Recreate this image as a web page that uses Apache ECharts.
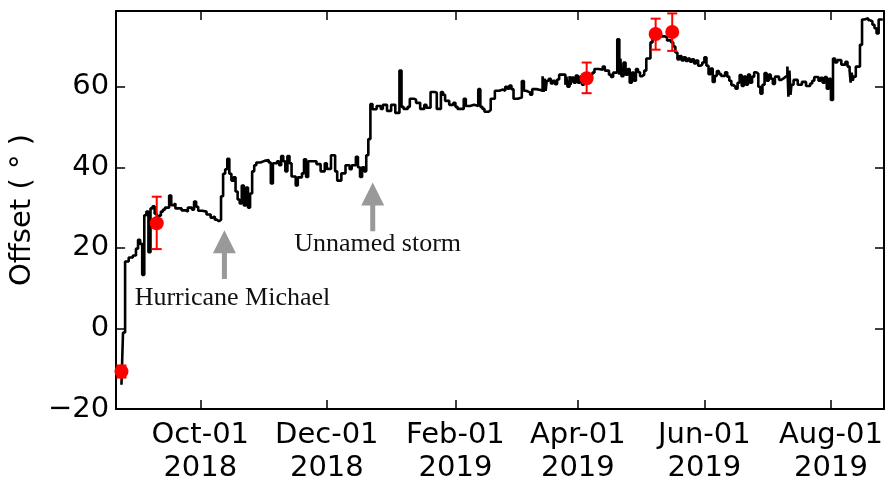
<!DOCTYPE html>
<html>
<head>
<meta charset="utf-8">
<script src="https://cdn.jsdelivr.net/npm/echarts@6/dist/echarts.min.js"></script>
<style>
  html, body { margin: 0; padding: 0; background: #fff; overflow: hidden; }
  #chart { width: 890px; height: 485px; }
</style>
</head>
<body>
<div id="chart"></div>
<script>
// Offset time series (degrees), step-drawn
const offsetSeries = [
  ['2018-08-24', -14], ['2018-08-24 18:00', -1], ['2018-08-25 18:00', 16.6],
  ['2018-08-27 12:00', 17.6], ['2018-08-29 12:00', 18.1], ['2018-08-31', 19.8],
  ['2018-09-01', 22], ['2018-09-02', 21], ['2018-09-03', 13.3], ['2018-09-04', 28.1],
  ['2018-09-05', 29], ['2018-09-06', 18.9], ['2018-09-07', 29.8], ['2018-09-08', 30.3],
  ['2018-09-09', 28.5], ['2018-09-10', 27], ['2018-09-11', 28], ['2018-09-12', 29],
  ['2018-09-13', 29.5], ['2018-09-14', 30], ['2018-09-16', 33], ['2018-09-17', 30.6],
  ['2018-09-18', 31], ['2018-09-19', 29.8], ['2018-09-21', 29.8], ['2018-09-22', 29.3],
  ['2018-09-24', 29], ['2018-09-25', 30], ['2018-09-27', 29.5], ['2018-09-28', 31.5],
  ['2018-09-29', 30.2], ['2018-09-30', 29.2], ['2018-10-02', 29], ['2018-10-04', 28.3],
  ['2018-10-06', 27.5], ['2018-10-07', 27.8], ['2018-10-08', 27], ['2018-10-09', 26.6],
  ['2018-10-10', 27], ['2018-10-11', 32.8], ['2018-10-12', 38.4], ['2018-10-13', 39.5],
  ['2018-10-14', 42.1], ['2018-10-15', 38.4], ['2018-10-16', 36.7], ['2018-10-17', 37.5],
  ['2018-10-18', 34], ['2018-10-19', 32], ['2018-10-20', 31], ['2018-10-21', 35.5],
  ['2018-10-22', 30.5], ['2018-10-23', 35], ['2018-10-24', 30], ['2018-10-25', 33.5],
  ['2018-10-26', 39], ['2018-10-27', 40.5], ['2018-10-28', 41.2], ['2018-10-30', 41.6],
  ['2018-11-01', 41.8], ['2018-11-03', 41.2], ['2018-11-04', 36], ['2018-11-05', 41],
  ['2018-11-07', 41.5], ['2018-11-08', 40.5], ['2018-11-09', 42.8], ['2018-11-10', 41.5],
  ['2018-11-11', 39], ['2018-11-12', 42.8], ['2018-11-13', 41], ['2018-11-14', 37.7],
  ['2018-11-16', 35.5], ['2018-11-17', 37.5], ['2018-11-19', 38.5], ['2018-11-20', 42],
  ['2018-11-21', 37.6], ['2018-11-22', 41.5], ['2018-11-24', 41.5], ['2018-11-26', 40.8],
  ['2018-11-28', 39], ['2018-11-30', 41], ['2018-12-01', 39.6], ['2018-12-03', 43],
  ['2018-12-05', 39], ['2018-12-06', 36.7], ['2018-12-08', 38.5], ['2018-12-10', 40.5],
  ['2018-12-12', 39.5], ['2018-12-13', 40.5], ['2018-12-15', 42.6], ['2018-12-16', 40],
  ['2018-12-17', 37.6], ['2018-12-18', 40], ['2018-12-19', 39], ['2018-12-20', 43],
  ['2018-12-21', 47], ['2018-12-22', 55.7], ['2018-12-23', 54.4], ['2018-12-25', 55.2],
  ['2018-12-27', 54.5], ['2018-12-28', 55.5], ['2018-12-30', 54], ['2019-01-01', 55.5],
  ['2019-01-03', 53.5], ['2019-01-05', 64], ['2019-01-06', 55], ['2019-01-07', 54.5],
  ['2019-01-09', 55], ['2019-01-10', 57], ['2019-01-12', 56.8], ['2019-01-13', 56],
  ['2019-01-15', 54.5], ['2019-01-17', 55.5], ['2019-01-18', 54.8], ['2019-01-20', 58.7],
  ['2019-01-22', 58.5], ['2019-01-23', 54.5], ['2019-01-25', 58.7], ['2019-01-26', 58],
  ['2019-01-27', 56.5], ['2019-01-29', 55.5], ['2019-01-31', 56], ['2019-02-01', 55],
  ['2019-02-02', 54.5], ['2019-02-05', 57], ['2019-02-06', 55.2], ['2019-02-08', 55.5],
  ['2019-02-10', 55.2], ['2019-02-12', 59.4], ['2019-02-13', 55], ['2019-02-14', 54.5],
  ['2019-02-15', 53.8], ['2019-02-17', 54.2], ['2019-02-18', 57], ['2019-02-20', 59],
  ['2019-02-22', 59.3], ['2019-02-24', 59], ['2019-02-25', 60], ['2019-02-26', 59.5],
  ['2019-02-27', 60.3], ['2019-02-28', 59.4], ['2019-03-01', 57], ['2019-03-03', 57.3],
  ['2019-03-05', 61.4], ['2019-03-06', 59], ['2019-03-07', 58.6], ['2019-03-09', 58],
  ['2019-03-10', 59.4], ['2019-03-12', 59.2], ['2019-03-14', 59], ['2019-03-15', 62.6],
  ['2019-03-15 12:00', 58.7], ['2019-03-16', 62], ['2019-03-16 12:00', 59], ['2019-03-17', 61.5],
  ['2019-03-18', 62], ['2019-03-19', 60.8], ['2019-03-20', 61.5], ['2019-03-21', 60.6],
  ['2019-03-22', 61.8], ['2019-03-23', 63], ['2019-03-25', 63], ['2019-03-26', 60.5],
  ['2019-03-26 12:00', 62.5], ['2019-03-27', 60], ['2019-03-28', 62.6], ['2019-03-28 12:00', 60.5],
  ['2019-03-29', 62.3], ['2019-03-30', 61], ['2019-03-31', 62.8], ['2019-04-01', 61],
  ['2019-04-02', 62.5], ['2019-04-03', 60.5], ['2019-04-04', 62.5], ['2019-04-05', 61.5],
  ['2019-04-06', 63], ['2019-04-08', 63.5], ['2019-04-09', 64.4], ['2019-04-11', 64.2],
  ['2019-04-13', 65], ['2019-04-14', 64], ['2019-04-16', 63], ['2019-04-17', 62.4],
  ['2019-04-18', 63.5], ['2019-04-20', 71.8], ['2019-04-21', 63], ['2019-04-21 12:00', 67],
  ['2019-04-22', 62.6], ['2019-04-23', 66], ['2019-04-24', 63], ['2019-04-25', 64.4],
  ['2019-04-26', 61], ['2019-04-27', 63.5], ['2019-04-28', 61.5], ['2019-04-29', 64.4],
  ['2019-04-30', 63.6], ['2019-05-01', 62.6], ['2019-05-02', 63], ['2019-05-03', 64],
  ['2019-05-04', 67], ['2019-05-06', 71], ['2019-05-07', 73.4], ['2019-05-08', 73.2],
  ['2019-05-10', 73.4], ['2019-05-11', 72.5], ['2019-05-13', 72.2], ['2019-05-14', 71.5],
  ['2019-05-16', 71], ['2019-05-17', 70], ['2019-05-18', 68.5], ['2019-05-19', 66.8],
  ['2019-05-20', 67.6], ['2019-05-21', 66.5], ['2019-05-22', 67.3], ['2019-05-23', 66.4],
  ['2019-05-24', 67], ['2019-05-25', 66.2], ['2019-05-26', 66.8], ['2019-05-27', 65.8],
  ['2019-05-28', 66.5], ['2019-05-29', 65.2], ['2019-05-30', 65.5], ['2019-05-31', 66],
  ['2019-06-01', 67.3], ['2019-06-02', 65.2], ['2019-06-03', 63.1], ['2019-06-04', 64.5],
  ['2019-06-05', 61.2], ['2019-06-06', 62.7], ['2019-06-07', 63.9], ['2019-06-08', 63.2],
  ['2019-06-09', 62.7], ['2019-06-11', 63.6], ['2019-06-12', 62.5], ['2019-06-13', 61.5],
  ['2019-06-14', 60.4], ['2019-06-15', 60], ['2019-06-16', 59.5], ['2019-06-17', 61],
  ['2019-06-18', 62.9], ['2019-06-19', 60.2], ['2019-06-20', 62.5], ['2019-06-21', 60.5],
  ['2019-06-22', 63], ['2019-06-23', 61], ['2019-06-24', 62.5], ['2019-06-25', 63.6],
  ['2019-06-26', 63.2], ['2019-06-27', 60], ['2019-06-28', 58.3], ['2019-06-29', 60.5],
  ['2019-06-30', 63.4], ['2019-07-01', 61.5], ['2019-07-02', 63], ['2019-07-03', 62],
  ['2019-07-04', 60.7], ['2019-07-05', 62.5], ['2019-07-07', 61.7], ['2019-07-08', 62],
  ['2019-07-09', 62.4], ['2019-07-10', 62.8], ['2019-07-11', 65], ['2019-07-11 12:00', 57.5],
  ['2019-07-12', 64], ['2019-07-12 12:00', 58], ['2019-07-13', 60.5], ['2019-07-14', 61.7],
  ['2019-07-16', 60.5], ['2019-07-18', 61.2], ['2019-07-20', 60.2], ['2019-07-22', 60.8],
  ['2019-07-23', 61.5], ['2019-07-24', 62.4], ['2019-07-26', 61.5], ['2019-07-27', 62.2],
  ['2019-07-28', 61], ['2019-07-29', 62.4], ['2019-07-30', 59.5], ['2019-07-31', 62],
  ['2019-08-01', 56.7], ['2019-08-02', 67], ['2019-08-03', 66], ['2019-08-04', 66.6],
  ['2019-08-06', 65.5], ['2019-08-08', 66.2], ['2019-08-09', 65], ['2019-08-10', 64],
  ['2019-08-10 12:00', 61], ['2019-08-11', 63.5], ['2019-08-11 12:00', 61.5], ['2019-08-12', 62.5],
  ['2019-08-13', 65], ['2019-08-15', 70.4], ['2019-08-16', 76.7], ['2019-08-17', 77],
  ['2019-08-19', 76.5], ['2019-08-20', 76.2], ['2019-08-21', 75.4], ['2019-08-22', 74.5],
  ['2019-08-23', 73.2], ['2019-08-24', 76.7], ['2019-08-26', 76.7]
];

// Reference measurements: [date, value, lower, upper]
const refPoints = [
  ['2018-08-24', -10.7, -12.2, -9.2],
  ['2018-09-10', 26.1, 19.7, 32.7],
  ['2019-04-05 06:00', 62.1, 58.4, 66.0],
  ['2019-05-08 12:00', 73.1, 69.2, 76.9],
  ['2019-05-16 12:00', 73.6, 68.9, 78.2]
];

// Event arrows: [date, tail value, tip value]
const eventArrows = [
  ['2018-10-12 15:00', 12.3, 24.4],
  ['2018-12-23 03:00', 24.1, 36.2]
];

// Event labels: [date, value, text]
const eventLabels = [
  ['2018-10-16 12:00', 7.6, 'Hurricane Michael'],
  ['2018-12-25 12:00', 20.9, 'Unnamed storm']
];

const xTickDates = ['2018-10-01', '2018-12-01', '2019-02-01', '2019-04-01', '2019-06-01', '2019-08-01'];
const yTickValues = [-20, 0, 20, 40, 60];
const xRange = ['2018-08-21 10:00', '2019-08-26 14:00'];
const yRange = [-20, 78.8];

const MONTHS = ['Jan','Feb','Mar','Apr','May','Jun','Jul','Aug','Sep','Oct','Nov','Dec'];
function toTime(s) {
  const [d, t] = s.split(' ');
  const [y, m, dd] = d.split('-').map(Number);
  let h = 0, mi = 0;
  if (t) { [h, mi] = t.split(':').map(Number); }
  return new Date(y, m - 1, dd, h, mi).getTime();
}
const xTicks = xTickDates.map(toTime);

const sansFont = 'DejaVu Sans';
const serifFont = 'Liberation Serif';

const chart = echarts.init(document.getElementById('chart'), null, { renderer: 'canvas', width: 890, height: 485 });

const tickStyle = { inside: true, length: 9, lineStyle: { color: '#000', width: 1.5 } };
const frameLine = { show: true, onZero: false, lineStyle: { color: '#000', width: 2 } };

chart.setOption({
  animation: false,
  backgroundColor: '#fff',
  grid: { left: 112, width: 772, top: 11, height: 400, containLabel: false },
  xAxis: [
    {
      type: 'value', position: 'bottom',
      min: toTime(xRange[0]), max: toTime(xRange[1]),
      axisLine: frameLine,
      axisTick: Object.assign({ customValues: xTicks }, tickStyle),
      splitLine: { show: false },
      axisLabel: {
        customValues: xTicks,
        margin: 10,
        fontFamily: sansFont, fontSize: 29, lineHeight: 33, color: '#000',
        formatter: function (v) {
          const d = new Date(v);
          const day = String(d.getDate()).padStart(2, '0');
          return MONTHS[d.getMonth()] + '-' + day + '\n' + d.getFullYear();
        }
      }
    },
    {
      type: 'value', position: 'top',
      min: toTime(xRange[0]), max: toTime(xRange[1]),
      axisLine: frameLine,
      axisTick: Object.assign({ customValues: xTicks }, tickStyle),
      axisLabel: { show: false },
      splitLine: { show: false }
    }
  ],
  yAxis: [
    {
      type: 'value', position: 'left',
      min: yRange[0], max: yRange[1],
      axisLine: frameLine,
      axisTick: Object.assign({ customValues: yTickValues }, tickStyle),
      splitLine: { show: false },
      axisLabel: {
        customValues: yTickValues,
        margin: 7,
        fontFamily: sansFont, fontSize: 29, color: '#000',
        formatter: function (v) { return v < 0 ? '\u2212' + Math.abs(v) : String(v); }
      },
      name: 'Offset ( \u00B0 )',
      nameLocation: 'middle',
      nameGap: 58,
      nameTextStyle: { fontFamily: sansFont, fontSize: 29, color: '#000' }
    },
    {
      type: 'value', position: 'right',
      min: yRange[0], max: yRange[1],
      axisLine: frameLine,
      axisTick: Object.assign({ customValues: yTickValues }, tickStyle),
      axisLabel: { show: false },
      splitLine: { show: false }
    }
  ],
  series: [
    {
      type: 'line',
      step: 'end',
      data: offsetSeries.map(p => [toTime(p[0]), p[1]]),
      showSymbol: false,
      lineStyle: { color: '#000', width: 2.6 },
      z: 3
    },
    {
      // error bars
      type: 'custom',
      data: refPoints.map(p => [toTime(p[0]), p[2], p[3]]),
      renderItem: function (params, api) {
        const lo = api.coord([api.value(0), api.value(1)]);
        const hi = api.coord([api.value(0), api.value(2)]);
        const cap = 5;
        const st = { stroke: '#ff0000', lineWidth: 2 };
        return {
          type: 'group',
          children: [
            { type: 'line', shape: { x1: lo[0], y1: lo[1], x2: hi[0], y2: hi[1] }, style: st },
            { type: 'line', shape: { x1: lo[0] - cap, y1: lo[1], x2: lo[0] + cap, y2: lo[1] }, style: st },
            { type: 'line', shape: { x1: hi[0] - cap, y1: hi[1], x2: hi[0] + cap, y2: hi[1] }, style: st }
          ]
        };
      },
      z: 4
    },
    {
      type: 'scatter',
      data: refPoints.map(p => [toTime(p[0]), p[1]]),
      symbol: 'circle',
      symbolSize: 14,
      itemStyle: { color: '#ff0000', opacity: 1 },
      z: 5
    },
    {
      // event arrows
      type: 'custom',
      data: eventArrows.map(a => [toTime(a[0]), a[1], a[2]]),
      renderItem: function (params, api) {
        const tail = api.coord([api.value(0), api.value(1)]);
        const tip = api.coord([api.value(0), api.value(2)]);
        const x = tip[0], headLen = 23, headHalf = 11.5, shaftHalf = 2.5;
        const hb = tip[1] + headLen;
        return {
          type: 'polygon',
          shape: { points: [
            [x, tip[1]], [x + headHalf, hb], [x + shaftHalf, hb], [x + shaftHalf, tail[1]],
            [x - shaftHalf, tail[1]], [x - shaftHalf, hb], [x - headHalf, hb]
          ] },
          style: { fill: '#999999' }
        };
      },
      z: 2
    },
    {
      // event labels
      type: 'custom',
      data: eventLabels.map(a => [toTime(a[0]), a[1]]),
      renderItem: function (params, api) {
        const p = api.coord([api.value(0), api.value(1)]);
        return {
          type: 'text',
          x: p[0], y: p[1],
          style: {
            text: eventLabels[params.dataIndex][2],
            fontFamily: serifFont, fontSize: 26, fill: '#111',
            align: 'center', verticalAlign: 'middle'
          }
        };
      },
      z: 2
    }
  ]
});
</script>
</body>
</html>
